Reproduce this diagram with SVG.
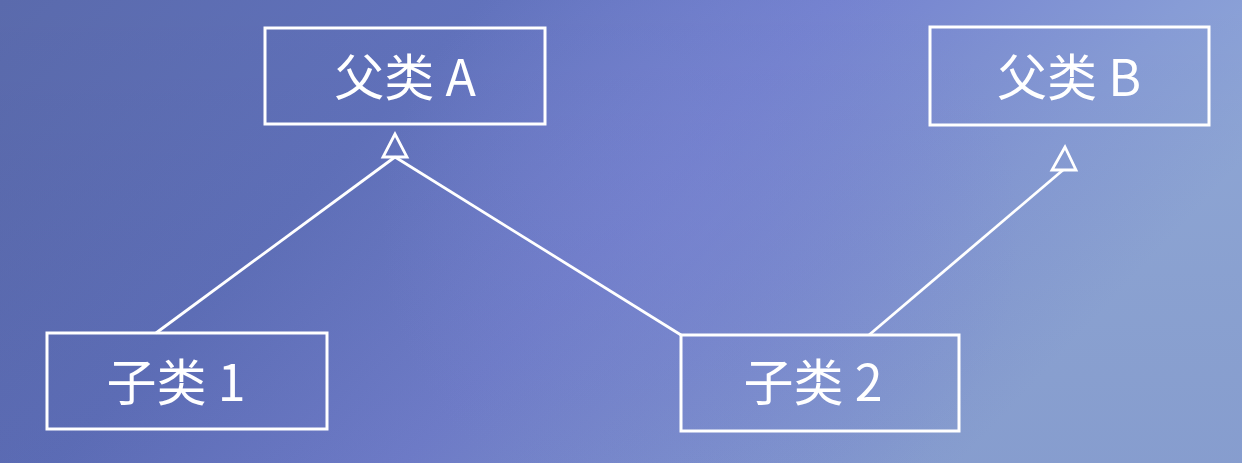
<svg xmlns="http://www.w3.org/2000/svg" width="1242" height="463" viewBox="0 0 1242 463">
  <defs>
    <linearGradient id="bg" x1="0" y1="0" x2="1" y2="0.35">
      <stop offset="0" stop-color="#5a6aac"/>
      <stop offset="0.35" stop-color="#6172bc"/>
      <stop offset="0.6" stop-color="#7482cf"/>
      <stop offset="0.85" stop-color="#879cd6"/>
      <stop offset="1" stop-color="#90a8d8"/>
    </linearGradient>
    <radialGradient id="glow" cx="700" cy="230" r="320" gradientUnits="userSpaceOnUse">
      <stop offset="0" stop-color="#7c88d8" stop-opacity="0.55"/>
      <stop offset="1" stop-color="#7c88d8" stop-opacity="0"/>
    </radialGradient>
    <linearGradient id="shade" x1="0" y1="0" x2="0" y2="1">
      <stop offset="0" stop-color="#000" stop-opacity="0"/>
      <stop offset="1" stop-color="#1a2060" stop-opacity="0.08"/>
    </linearGradient>
    <style>
      .box { fill: none; stroke: #ffffff; stroke-width: 3; }
      .edge { fill: none; stroke: #ffffff; stroke-width: 2.8; }
      .head { fill: none; stroke: #ffffff; stroke-width: 2.8; stroke-linejoin: miter; }
      .label { fill: #ffffff; font-family: "Noto Sans CJK SC", "Liberation Sans", sans-serif; font-size: 50px; text-anchor: middle; }
    </style>
  </defs>

  <!-- background -->
  <rect width="1242" height="463" fill="url(#bg)"/>
  <rect width="1242" height="463" fill="url(#glow)"/>
  <rect width="1242" height="463" fill="url(#shade)"/>

  <!-- connectors: generalisation lines with hollow triangle heads -->
  <g id="connectors">
    <line class="edge" x1="156" y1="333" x2="395" y2="157"/>
    <line class="edge" x1="681" y1="335" x2="395" y2="157"/>
    <line class="edge" x1="869" y1="335" x2="1063" y2="170"/>
    <polygon class="head" points="395,134 383,157 407,157"/>
    <polygon class="head" points="1065,147 1052,170 1076,170"/>
  </g>

  <g id="parentA">
    <rect class="box" x="265" y="28" width="280" height="96"/>
    <text class="label" x="405" y="96">父类 A</text>
  </g>

  <g id="parentB">
    <rect class="box" x="930" y="27" width="279" height="98"/>
    <text class="label" x="1069" y="96">父类 B</text>
  </g>

  <g id="child1">
    <rect class="box" x="47" y="333" width="280" height="96"/>
    <text class="label" x="176" y="401">子类 1</text>
  </g>

  <g id="child2">
    <rect class="box" x="681" y="335" width="278" height="96"/>
    <text class="label" x="813" y="401">子类 2</text>
  </g>
</svg>
